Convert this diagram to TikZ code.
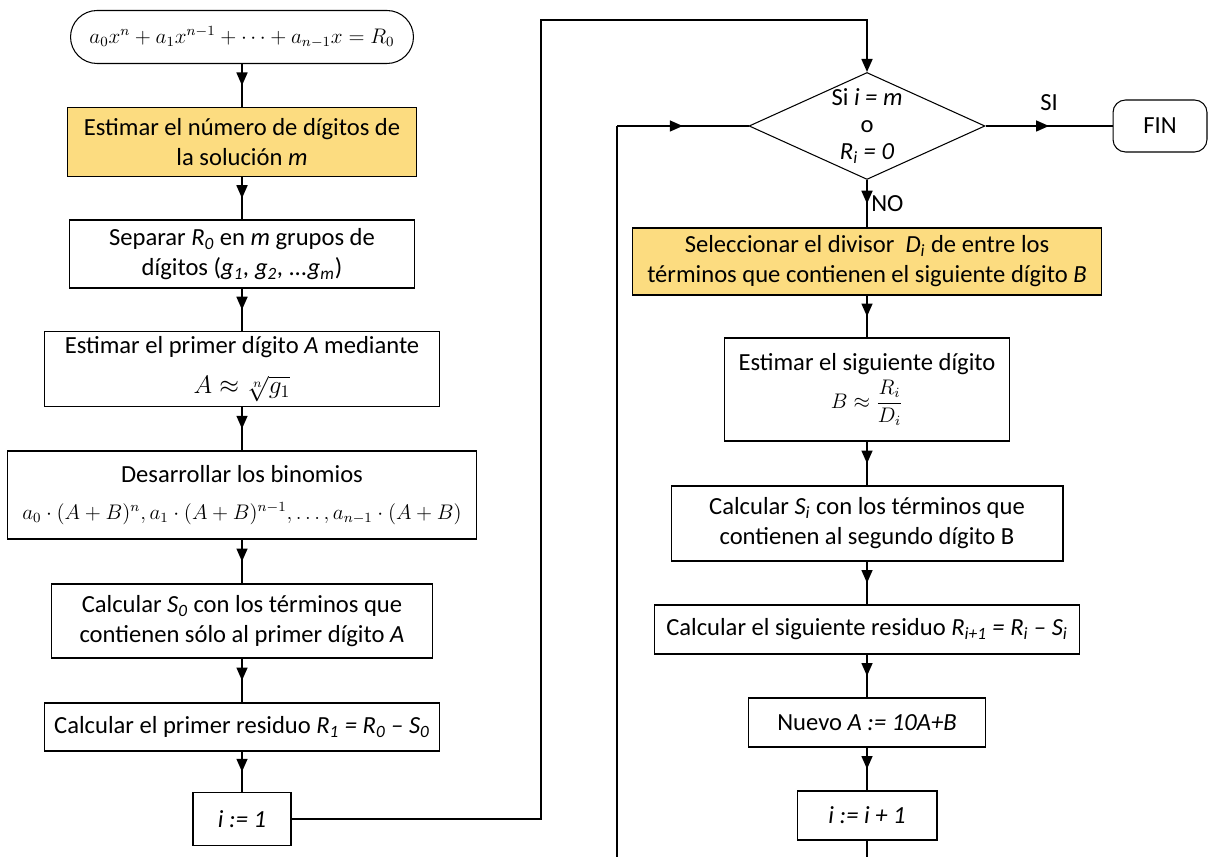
\documentclass[tikz,border=0pt]{standalone}
\usepackage[no-math]{fontspec}
\usepackage{amsmath}
\usepackage{amssymb}
\setmainfont{Carlito}
\usetikzlibrary{shapes.geometric,arrows.meta,decorations.markings}
\definecolor{gold}{RGB}{252,220,128}
\newcommand{\eqsize}{\fontsize{12}{14}\selectfont}

\begin{document}
\begin{tikzpicture}[x=0.02cm,y=-0.02cm]
    \tikzstyle{every node}=[font=\fontsize{14}{17}\selectfont]
    \tikzstyle{box}=[draw,line width=0.6pt,align=center,inner sep=2pt]
    \tikzstyle{hl}=[box,fill=gold]
    \tikzstyle{flow}=[line width=0.9pt,postaction={decorate},
        decoration={markings,mark=at position 0.5 with {\arrow{Triangle[length=2.6mm,width=2.2mm]}}}]

    \useasboundingbox (0,0) rectangle (1209,857);

    % left column
    \node[box,rounded corners=0.53cm,minimum width=6.86cm,minimum height=1.06cm] (start) at (242,37)
        {\eqsize $a_0x^n+a_1x^{n-1}+\cdots+a_{n-1}x=R_0$};
    \node[hl,minimum width=7cm,minimum height=1.38cm] (est) at (242,142)
        {Estimar el número de dígitos de\\la solución \textit{m}};
    \node[box,minimum width=6.9cm,minimum height=1.36cm] (sep) at (242,254)
        {Separar \textit{R\textsubscript{0}} en \textit{m} grupos de\\dígitos (\textit{g\textsubscript{1}, g\textsubscript{2}, ...g\textsubscript{m}})};
    \node[box,minimum width=7.92cm,minimum height=1.5cm] (prim) at (242,369)
        {Estimar el primer dígito \textit{A} mediante\\[6pt]{\fontsize{14}{14}\selectfont $A\approx\sqrt[n]{g_1}$}};
    \node[box,minimum width=9.38cm,minimum height=1.76cm] (des) at (242,495)
        {Desarrollar los binomios\\[4pt]{\eqsize $a_0\cdot(A+B)^n,a_1\cdot(A+B)^{n-1},\dots,a_{n-1}\cdot(A+B)$}};
    \node[box,minimum width=7.62cm,minimum height=1.48cm] (szero) at (242,621)
        {Calcular \textit{S\textsubscript{0}} con los términos que\\contienen sólo al primer dígito \textit{A}};
    \node[box,minimum width=7.92cm,minimum height=0.96cm] (rone) at (242,727)
        {Calcular el primer residuo \textit{R\textsubscript{1} = R\textsubscript{0} – S\textsubscript{0}}};
    \node[box,minimum width=1.96cm,minimum height=1.06cm] (one) at (242,819)
        {\textit{i := 1}};

    % right column
    \node[draw,diamond,line width=0.6pt,inner sep=0pt,minimum width=4.72cm,minimum height=2.14cm,
        label={[align=center,font=\fontsize{14}{15.5}\selectfont]center:Si \textit{i = m}\\o\\\textit{R\textsubscript{i} = 0}}] (dec) at (867,126) {};
    \node[box,rounded corners=0.25cm,minimum width=1.88cm,minimum height=1.04cm] (fin) at (1160,126) {FIN};
    \node[hl,minimum width=9.4cm,minimum height=1.34cm] (sel) at (867,261.5)
        {Seleccionar el divisor \ \textit{D\textsubscript{i}} de entre los\\términos que contienen el siguiente dígito \textit{B}};
    \node[box,minimum width=5.7cm,minimum height=2.06cm] (sig) at (867,389.5)
        {Estimar el siguiente dígito\\[2pt]{\eqsize $B\approx\dfrac{R_i}{D_i}$}};
    \node[box,minimum width=7.84cm,minimum height=1.5cm] (si) at (867,523.5)
        {Calcular \textit{S\textsubscript{i}} con los términos que\\contienen al segundo dígito B};
    \node[box,minimum width=8.5cm,minimum height=0.98cm] (res) at (867,629.5)
        {Calcular el siguiente residuo \textit{R\textsubscript{i+1} = R\textsubscript{i} – S\textsubscript{i}}};
    \node[box,minimum width=4.74cm,minimum height=0.98cm] (nuevo) at (867,722.5)
        {Nuevo \textit{A := 10A+B}};
    \node[box,minimum width=2.8cm,minimum height=0.98cm] (inc) at (867,815.5)
        {\textit{i := i + 1}};

    \coordinate (up) at (541,20);
    \coordinate (loopb) at (617,857);
    \coordinate (loopt) at (617,126);
    \coordinate (incb) at (867,857);

    % connectors
    \draw[flow] (start) -- (est);
    \draw[flow] (est) -- (sep);
    \draw[flow] (sep) -- (prim);
    \draw[flow] (prim) -- (des);
    \draw[flow] (des) -- (szero);
    \draw[flow] (szero) -- (rone);
    \draw[flow] (rone) -- (one);
    \draw[line width=0.9pt,-{Triangle[length=2.6mm,width=2.2mm]}] (one) -| (up) -| (dec);

    \draw[flow] (dec) -- node[right,inner sep=2pt] {NO} (sel);
    \draw[flow] (dec) -- node[above,inner sep=8pt] {SI} (fin);
    \draw[flow] (sel) -- (sig);
    \draw[flow] (sig) -- (si);
    \draw[flow] (si) -- (res);
    \draw[flow] (res) -- (nuevo);
    \draw[flow] (nuevo) -- (inc);
    \draw[line width=0.9pt] (inc) -- (incb);
    \draw[line width=0.9pt] (loopb) -- (loopt);
    \draw[flow] (loopt) -- (dec);

\end{tikzpicture}
\end{document}
